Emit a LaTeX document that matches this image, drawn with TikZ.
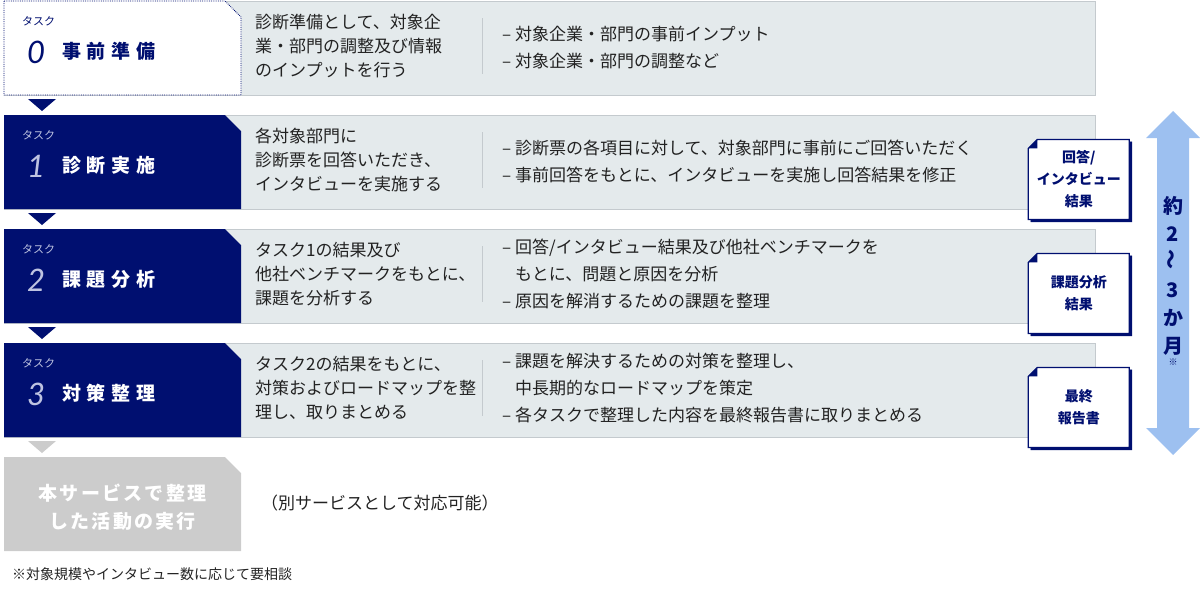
\documentclass[tikz,border=0pt]{standalone}
\usepackage{fontspec}
\setmainfont{Noto Sans CJK JP}
\newfontfamily\titlefont{Noto Sans CJK JP}[LetterSpace=30]
\newfontfamily\restfont{Noto Sans CJK JP}[LetterSpace=12]
\newfontfamily\numfont{Lato}
\usetikzlibrary{positioning,calc,shadows}

\definecolor{navy}{RGB}{0,15,112}
\definecolor{panelgray}{RGB}{228,234,236}
\definecolor{panelline}{RGB}{196,202,206}
\definecolor{restgray}{RGB}{204,204,204}
\definecolor{spanblue}{RGB}{157,192,240}
\definecolor{ink}{RGB}{34,34,34}
\definecolor{palelabel}{RGB}{190,195,225}

\tikzset{
  panel/.style={fill=panelgray, draw=panelline, line width=0.8pt, minimum width=1091pt, minimum height=94pt, inner sep=0pt, anchor=north west},
  taskbox/.style={rectangle, minimum width=237pt, minimum height=94pt, inner sep=0pt, outer sep=0pt, anchor=north west},
  tasklabel/.style={font=\fontsize{11}{11}\selectfont, inner sep=0pt, anchor=west},
  tasknum/.style={font=\numfont\itshape\fontsize{31}{31}\selectfont, inner sep=0pt},
  tasktitle/.style={font=\titlefont\bfseries\fontsize{19}{19}\selectfont, inner sep=0pt, anchor=west},
  midtext/.style={font=\fontsize{17}{24}\selectfont, text=ink, align=left, inner sep=0pt, anchor=west},
  righttext/.style={font=\fontsize{17}{27}\selectfont, text=ink, align=left, inner sep=0pt, anchor=west},
  divider/.style={draw=panelline, line width=0.8pt},
  docline/.style={draw=navy, line width=1.3pt, fill=white, line join=miter, copy shadow={shadow xshift=2.5pt, shadow yshift=-2.5pt, fill=navy, draw=navy}},
  doctext/.style={font=\bfseries\fontsize{14}{22}\selectfont, text=navy, align=center, inner sep=0pt},
  steparrow/.style={fill=navy},
  spantext/.style={font=\bfseries\fontsize{20}{28}\selectfont, text=navy, align=center, inner sep=0pt},
}

\begin{document}
\begin{tikzpicture}[x=1pt,y=-1pt]
    \useasboundingbox (0,0) rectangle (1200,592);
    % panels behind the task boxes
    \node[panel] (p0) at (4,1) {};
    \node[panel] (p1) at (4,115) {};
    \node[panel] (p2) at (4,229) {};
    \node[panel] (p3) at (4,343) {};

    % task boxes, cut at the top right corner
    \node[taskbox] (t0) at (4,1) {};
    \node[taskbox] (t1) at (4,115) {};
    \node[taskbox] (t2) at (4,229) {};
    \node[taskbox] (t3) at (4,343) {};
    \node[taskbox] (t4) at (4,457) {};
    \filldraw[fill=white, draw=navy, densely dotted, line width=0.8pt] (t0.north west) -- ($(t0.north east)+(-16,0)$) -- ($(t0.north east)+(0,16)$) -- (t0.south east) -- (t0.south west) -- cycle;
    \fill[navy] (t1.north west) -- ($(t1.north east)+(-16,0)$) -- ($(t1.north east)+(0,16)$) -- (t1.south east) -- (t1.south west) -- cycle;
    \fill[navy] (t2.north west) -- ($(t2.north east)+(-16,0)$) -- ($(t2.north east)+(0,16)$) -- (t2.south east) -- (t2.south west) -- cycle;
    \fill[navy] (t3.north west) -- ($(t3.north east)+(-16,0)$) -- ($(t3.north east)+(0,16)$) -- (t3.south east) -- (t3.south west) -- cycle;
    \fill[restgray] (t4.north west) -- ($(t4.north east)+(-16,0)$) -- ($(t4.north east)+(0,16)$) -- (t4.south east) -- (t4.south west) -- cycle;

    \node[tasklabel, text=navy] (k0) at ($(t0.north west)+(18,20)$) {タスク};
    \node[tasknum, text=navy] (n0) at ($(t0.west)+(32,4)$) {0};
    \node[tasktitle, text=navy] (h0) at ($(t0.west)+(58,3)$) {事前準備};
    \node[tasklabel, text=palelabel] (k1) at ($(t1.north west)+(18,20)$) {タスク};
    \node[tasknum, text=palelabel] (n1) at ($(t1.west)+(32,4)$) {1};
    \node[tasktitle, text=white] (h1) at ($(t1.west)+(58,3)$) {診断実施};
    \node[tasklabel, text=palelabel] (k2) at ($(t2.north west)+(18,20)$) {タスク};
    \node[tasknum, text=palelabel] (n2) at ($(t2.west)+(32,4)$) {2};
    \node[tasktitle, text=white] (h2) at ($(t2.west)+(58,3)$) {課題分析};
    \node[tasklabel, text=palelabel] (k3) at ($(t3.north west)+(18,20)$) {タスク};
    \node[tasknum, text=palelabel] (n3) at ($(t3.west)+(32,4)$) {3};
    \node[tasktitle, text=white] (h3) at ($(t3.west)+(58,3)$) {対策整理};
    \node[tasktitle, text=white, anchor=center, align=center, font=\restfont\bfseries\fontsize{19}{28}\selectfont] (h4) at ($(t4.center)+(0,3)$) {本サービスで整理\\した活動の実行};

    % steps between the boxes
    \fill[steparrow] ($(t0.south west)+(24,4)$) -- ++(28,0) -- ++(-14,12) -- cycle;
    \fill[steparrow] ($(t1.south west)+(24,4)$) -- ++(28,0) -- ++(-14,12) -- cycle;
    \fill[steparrow] ($(t2.south west)+(24,4)$) -- ++(28,0) -- ++(-14,12) -- cycle;
    \fill[steparrow, fill=restgray] ($(t3.south west)+(24,4)$) -- ++(28,0) -- ++(-14,12) -- cycle;

    % middle column
    \node[midtext] (m0) at ($(p0.west)+(251,-2)$) {診断準備として、対象企\\業・部門の調整及び情報\\のインプットを行う};
    \node[midtext] (m1) at ($(p1.west)+(251,-2)$) {各対象部門に\\診断票を回答いただき、\\インタビューを実施する};
    \node[midtext] (m2) at ($(p2.west)+(251,-2)$) {タスク1の結果及び\\他社ベンチマークをもとに、\\課題を分析する};
    \node[midtext] (m3) at ($(p3.west)+(251,-2)$) {タスク2の結果をもとに、\\対策およびロードマップを整\\理し、取りまとめる};
    \node[midtext, anchor=west] (m4) at ($(t4.east)+(20,-1)$) {（別サービスとして対応可能）};

    \draw[divider] ($(p0.west)+(478,-30)$) -- ++(0,56);
    \draw[divider] ($(p1.west)+(478,-30)$) -- ++(0,56);
    \draw[divider] ($(p2.west)+(478,-30)$) -- ++(0,56);
    \draw[divider] ($(p3.west)+(478,-30)$) -- ++(0,56);

    % right column
    \node[righttext] (r0) at ($(p0.west)+(498,-1)$) {– 対象企業・部門の事前インプット\\– 対象企業・部門の調整など};
    \node[righttext] (r1) at ($(p1.west)+(498,-1)$) {– 診断票の各項目に対して、対象部門に事前にご回答いただく\\– 事前回答をもとに、インタビューを実施し回答結果を修正};
    \node[righttext] (r2) at ($(p2.west)+(498,-2)$) {– 回答/インタビュー結果及び他社ベンチマークを\\\phantom{– }もとに、問題と原因を分析\\– 原因を解消するための課題を整理};
    \node[righttext] (r3) at ($(p3.west)+(498,-2)$) {– 課題を解決するための対策を整理し、\\\phantom{– }中長期的なロードマップを策定\\– 各タスクで整理した内容を最終報告書に取りまとめる};

    % deliverables
    \coordinate (c1) at ($(p1.east)+(-17,17)$);
    \coordinate (c2) at ($(p2.east)+(-17,17)$);
    \coordinate (c3) at ($(p3.east)+(-17,17)$);
    \filldraw[docline] ($(c1)+(-41.5,-40)$) -- ++(92,0) -- ++(0,80) -- ++(-101,0) -- ++(0,-71) -- cycle;
    \filldraw[docline] ($(c2)+(-41.5,-40)$) -- ++(92,0) -- ++(0,80) -- ++(-101,0) -- ++(0,-71) -- cycle;
    \filldraw[docline] ($(c3)+(-41.5,-40)$) -- ++(92,0) -- ++(0,80) -- ++(-101,0) -- ++(0,-71) -- cycle;
    \fill[navy] ($(c1)+(-41.5,-40)$) -- ++(-9,9) -- ++(9,0) -- cycle;
    \fill[navy] ($(c2)+(-41.5,-40)$) -- ++(-9,9) -- ++(9,0) -- cycle;
    \fill[navy] ($(c3)+(-41.5,-40)$) -- ++(-9,9) -- ++(9,0) -- cycle;
    \node[doctext] (d1) at (c1) {回答/\\インタビュー\\結果};
    \node[doctext] (d2) at (c2) {課題分析\\結果};
    \node[doctext] (d3) at (c3) {最終\\報告書};

    % duration
    \fill[spanblue] (1173,111) -- (1200,138) -- (1189,138) -- (1189,428) -- (1200,428) -- (1173,455)
        -- (1146,428) -- (1157,428) -- (1157,138) -- (1146,138) -- cycle;
    \node[spantext] (span) at (1173,276) {約\\2\\\rotatebox{90}{～}\\3\\か\\月};
    \node[spantext, font=\fontsize{9}{9}\selectfont, below=3pt of span] (spannote) {※};

    \node[midtext, font=\fontsize{14}{14}\selectfont] (fn) at (12,574) {※対象規模やインタビュー数に応じて要相談};
\end{tikzpicture}
\end{document}
